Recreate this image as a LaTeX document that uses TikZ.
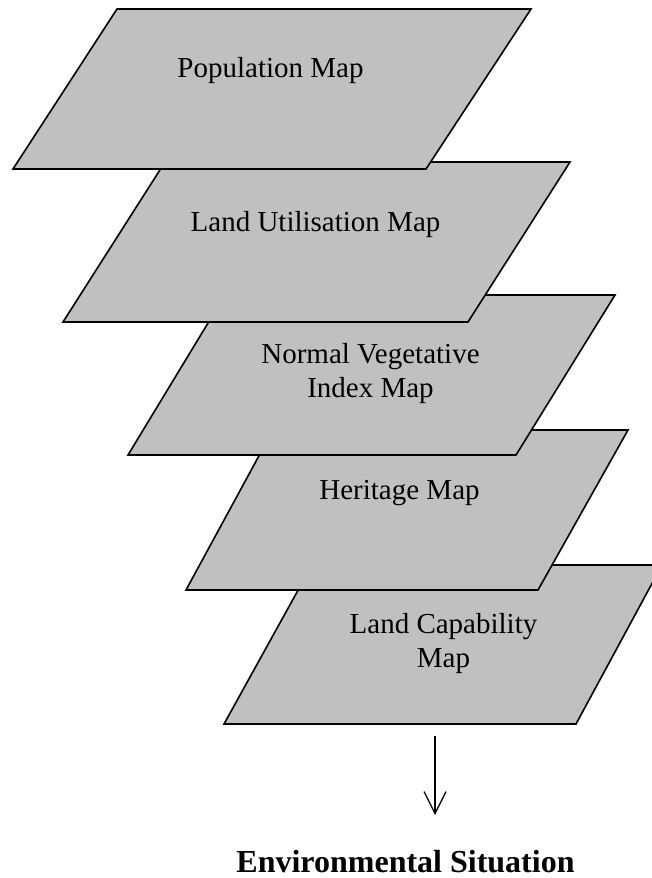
\documentclass[tikz,border=0pt]{standalone}
\usepackage{fontspec}
\setmainfont{Liberation Serif}
\usetikzlibrary{arrows.meta}
\definecolor{layergray}{RGB}{192,192,192}
\tikzset{
  layer/.style={draw=black, fill=layergray, line width=1.6pt, line join=miter},
  lbl/.style={anchor=base, align=center, inner sep=0pt, font=\fontsize{29}{34}\selectfont},
  flow/.style={line width=1.3pt, -{Straight Barb[length=22pt,width=22pt,line width=1.3pt]}}
}
\begin{document}
\begin{tikzpicture}[x=1pt,y=-1pt]
\useasboundingbox (0,0) rectangle (652,878);
\clip (0,0) rectangle (652,878);
% layers, bottom first, each with its label
\draw[layer] (312,565) -- (662,565) -- (576,724) -- (224,724) -- cycle;
\node[lbl] (lc) at (443.5,667) {Land Capability\\Map};
\draw[layer] (273,430) -- (628,430) -- (538,590) -- (186,590) -- cycle;
\node[lbl] (her) at (399.5,499) {Heritage Map};
\draw[layer] (225,295) -- (615,295) -- (516,455) -- (128,455) -- cycle;
\node[lbl] (nv) at (370.5,397) {Normal Vegetative\\Index Map};
\draw[layer] (165,162) -- (570,162) -- (468,322) -- (63,322) -- cycle;
\node[lbl] (lu) at (315.5,231) {Land Utilisation Map};
\draw[layer] (117,9) -- (531,9) -- (426,169) -- (13,169) -- cycle;
\node[lbl] (pop) at (270.5,77) {Population Map};
% result
\node[anchor=base, inner sep=0pt, font=\fontsize{32}{36}\selectfont\bfseries] (env) at (405.5,872) {Environmental Situation};
% arrow
\coordinate (astart) at (435,736);
\coordinate (aend) at (435,815);
\draw[flow] (astart) -- (aend);
\end{tikzpicture}
\end{document}
